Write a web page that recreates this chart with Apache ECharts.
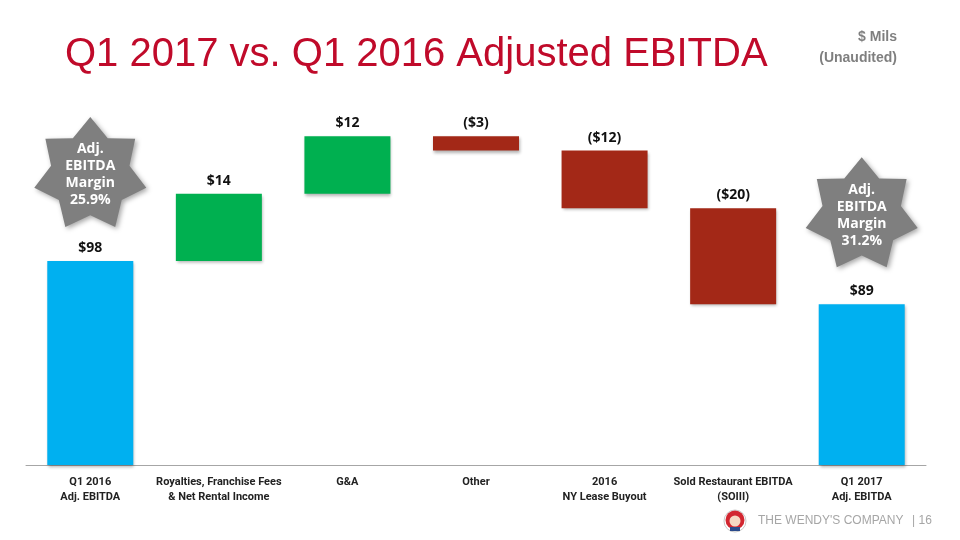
<!DOCTYPE html>
<html>
<head>
<meta charset="utf-8">
<script src="https://cdn.jsdelivr.net/npm/echarts@6/dist/echarts.min.js"></script>
<style>html,body{margin:0;padding:0;background:#fff;}#c{width:960px;height:540px;}</style>
</head>
<body>
<div id="c"></div>
<script>
const categories = ['Q1 2016\nAdj. EBITDA', 'Royalties, Franchise Fees\n& Net Rental Income', 'G&A', 'Other', '2016\nNY Lease Buyout', 'Sold Restaurant EBITDA\n(SOIII)', 'Q1 2017\nAdj. EBITDA'];
const startValue = 98;
const changes = [14, 12, -3, -12, -20];
const endValue = 89;
const valueLabels = ['$98', '$14', '$12', '($3)', '($12)', '($20)', '$89'];
const marginLabels = ['25.9%', '31.2%'];

const BLUE = '#00B0F0', GREEN = '#00B050', RED = '#A32817';

// waterfall construction
const base = [], visible = [];
base.push(0); visible.push({ value: startValue, itemStyle: { color: BLUE } });
let level = startValue;
changes.forEach(c => {
  const next = level + c;
  base.push(Math.min(level, next));
  visible.push({ value: Math.abs(c), itemStyle: { color: c >= 0 ? GREEN : RED } });
  level = next;
});
base.push(0); visible.push({ value: endValue, itemStyle: { color: BLUE } });

// 7-point star path
function starPath(n, R, ratio) {
  let d = '';
  for (let i = 0; i < 2 * n; i++) {
    const a = -Math.PI / 2 + i * Math.PI / n;
    const r = i % 2 === 0 ? R : R * ratio;
    const x = (R + r * Math.cos(a)).toFixed(2), y = (R + r * Math.sin(a)).toFixed(2);
    d += (i === 0 ? 'M' : 'L') + x + ' ' + y + ' ';
  }
  return 'path://' + d + 'Z';
}
const STAR = starPath(7, 100, 0.7);

const chart = echarts.init(document.getElementById('c'));
const starLabel = {
  show: true, position: 'inside', color: '#fff', fontWeight: 'bold', fontSize: 14, lineHeight: 17,
  fontFamily: 'Open Sans', offset: [0, 3]
};
chart.setOption({
  animation: false,
  backgroundColor: '#fff',
  title: [
    { text: 'Q1 2017 vs. Q1 2016 Adjusted EBITDA', left: 60, top: 30,
      textStyle: { color: '#C00A2A', fontSize: 40, fontWeight: 'normal', fontFamily: 'Liberation Sans' } }
  ],
  grid: { left: 26, right: 34, top: 105, bottom: 75 },
  xAxis: {
    type: 'category', data: categories,
    axisLine: { lineStyle: { color: '#A6A6A6', width: 1 } },
    axisTick: { show: false },
    axisLabel: { color: '#222', fontWeight: 'bold', fontSize: 11, lineHeight: 15, margin: 10, interval: 0,
      fontFamily: 'Roboto' }
  },
  yAxis: { type: 'value', min: 55.5, max: 130.5, show: false, splitLine: { show: false } },
  series: [
    { type: 'bar', stack: 'w', data: base, itemStyle: { color: 'transparent' }, silent: true, barWidth: 86 },
    { type: 'bar', stack: 'w', data: visible, barWidth: 86,
      itemStyle: { shadowBlur: 3, shadowOffsetX: 1, shadowOffsetY: 2, shadowColor: 'rgba(0,0,0,0.3)' },
      label: { show: true, position: 'top', distance: 6, color: '#111', fontWeight: 'bold', fontSize: 14,
        fontFamily: 'Open Sans', formatter: p => valueLabels[p.dataIndex] },
      markPoint: {
        symbol: STAR, symbolSize: [112, 110], symbolKeepAspect: false,
        itemStyle: { color: '#7F7F7F', shadowBlur: 5, shadowOffsetX: 2, shadowOffsetY: 2, shadowColor: 'rgba(0,0,0,0.35)' },
        data: [
          { coord: [0, startValue], symbolOffset: [0, -89], label: Object.assign({}, starLabel, { formatter: 'Adj.\nEBITDA\nMargin\n' + marginLabels[0] }) },
          { coord: [categories.length - 1, endValue], symbolOffset: [0, -92], label: Object.assign({}, starLabel, { formatter: 'Adj.\nEBITDA\nMargin\n' + marginLabels[1] }) }
        ]
      }
    }
  ],
  graphic: [
    { type: 'text', x: 897, y: 37, style: { text: '$ Mils', fill: '#7F7F7F', fontSize: 14, fontWeight: 'bold', fontFamily: 'Liberation Sans', align: 'right', verticalAlign: 'middle' } },
    { type: 'text', x: 897, y: 58, style: { text: '(Unaudited)', fill: '#7F7F7F', fontSize: 14, fontWeight: 'bold', fontFamily: 'Liberation Sans', align: 'right', verticalAlign: 'middle' } },
    { type: 'group', x: 724, y: 510, children: [
      { type: 'circle', shape: { cx: 11, cy: 11, r: 11 }, style: { fill: '#fff', stroke: '#C9C9C9', lineWidth: 1 } },
      { type: 'circle', shape: { cx: 11, cy: 10, r: 9.5 }, style: { fill: '#D22630' } },
      { type: 'circle', shape: { cx: 11, cy: 11, r: 5.5 }, style: { fill: '#F6D7C3' } },
      { type: 'rect', shape: { x: 6, y: 17, width: 10, height: 4 }, style: { fill: '#2B4A8B' } }
    ] },
    { type: 'text', x: 758, y: 521, style: { text: "THE WENDY'S COMPANY", fill: '#A6A6A6', fontSize: 12, fontFamily: 'Liberation Sans', verticalAlign: 'middle' } },
    { type: 'text', x: 912, y: 521, style: { text: '| 16', fill: '#A6A6A6', fontSize: 12, fontFamily: 'Liberation Sans', verticalAlign: 'middle' } }
  ]
});
</script>
</body>
</html>
